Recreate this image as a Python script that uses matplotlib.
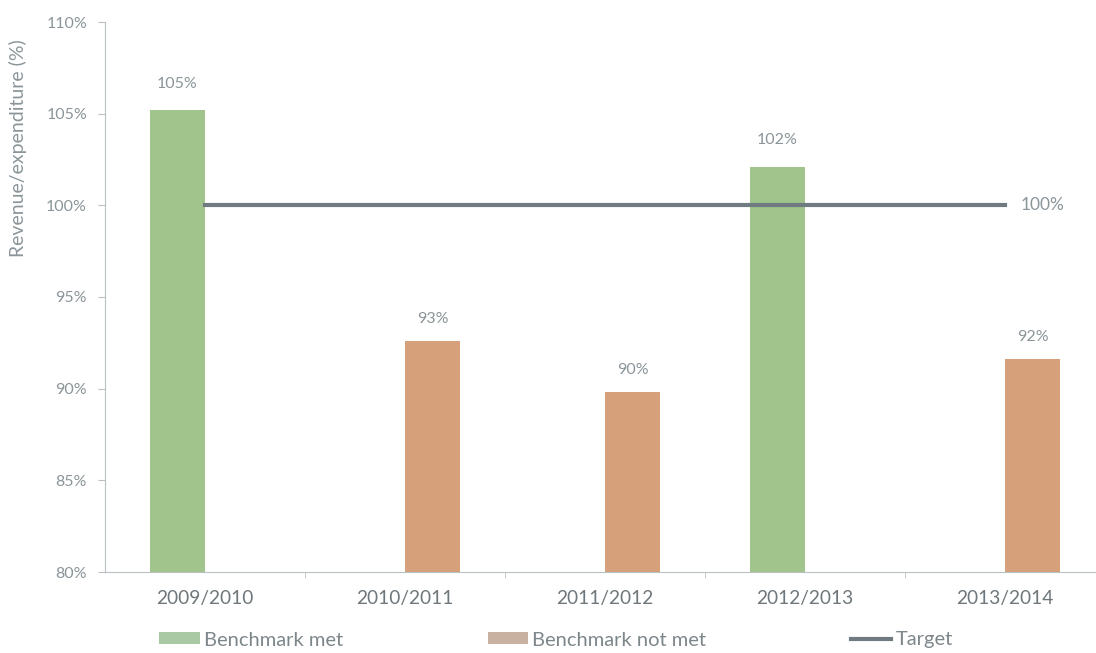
import matplotlib
matplotlib.use("Agg")
import matplotlib.pyplot as plt
from matplotlib.lines import Line2D
from matplotlib.patches import Patch
import numpy as np

# revenue / expenditure ratio per financial year
years = ["2009/2010", "2010/2011", "2011/2012", "2012/2013", "2013/2014"]
met = [105.2, None, None, 102.1, None]
not_met = [None, 92.6, 89.8, None, 91.6]
target = 100

GREEN = "#a0c48b"
ORANGE = "#d6a07b"
LINE = "#6f7b80"
TEXT = "#8b9599"
AXIS = "#b9c1c4"

plt.rcParams["font.family"] = ["Lato", "DejaVu Sans"]

fig = plt.figure(figsize=(10.96, 6.53), dpi=100)
ax = fig.add_axes([105 / 1096, 81 / 653, 1000 / 1096, 550 / 653])

x = np.arange(len(years))
w = 0.275
for i in x:
    if met[i] is not None:
        ax.bar(i - w / 2, met[i] - 80, w, bottom=80, color=GREEN, zorder=2)
        ax.annotate(f"{met[i]:.0f}%", (i - w / 2, met[i]), xytext=(0, 19),
                    textcoords="offset points", ha="center", va="center",
                    fontsize=11.5, color=TEXT)
    if not_met[i] is not None:
        ax.bar(i + w / 2, not_met[i] - 80, w, bottom=80, color=ORANGE, zorder=2)
        ax.annotate(f"{not_met[i]:.0f}%", (i + w / 2, not_met[i]), xytext=(0, 16),
                    textcoords="offset points", ha="center", va="center",
                    fontsize=11.5, color=TEXT)

ax.plot([x[0], x[-1]], [target, target], color=LINE, lw=3, zorder=3)
ax.text(x[-1] + 0.19, target, f"{target}%", ha="center", va="center",
        fontsize=12.5, color=TEXT)

ax.set_xlim(-0.5, len(years) - 0.5)
ax.set_ylim(80, 110)
ax.set_yticks(range(80, 111, 5))
ax.set_yticklabels([f"{v}%" for v in range(80, 111, 5)], fontsize=11.5, color=TEXT)
ax.set_xticks(x)
ax.set_xticklabels(years, fontsize=13.8, color="#6e777b")
ax.set_xticks(np.arange(0.5, len(years) - 1, 1), minor=True)
ax.tick_params(axis="x", which="major", length=0, pad=13)
ax.tick_params(axis="x", which="minor", length=4, color=AXIS, direction="out")
ax.tick_params(axis="y", length=5, color=AXIS, pad=8)

for s in ("top", "right"):
    ax.spines[s].set_visible(False)
for s in ("left", "bottom"):
    ax.spines[s].set_color(AXIS)

ax.set_ylabel("Revenue/expenditure (%)", fontsize=14, color=TEXT)
ax.yaxis.set_label_coords(-78 / 1000, 0.77)

handles = [
    Patch(facecolor="#a9c9a4", label="Benchmark met"),
    Patch(facecolor="#c9b1a2", label="Benchmark not met"),
    Line2D([], [], color=LINE, lw=3, label="Target"),
]
leg = fig.legend(handles=handles, loc="center", bbox_to_anchor=(556 / 1096, 13 / 653),
                 ncol=3, frameon=False, fontsize=14.5, handlelength=2.0,
                 handleheight=0.55, handletextpad=0.2, columnspacing=7.2)
for t in leg.get_texts():
    t.set_color("#7d878b")

fig.savefig("out.png", dpi=100)
